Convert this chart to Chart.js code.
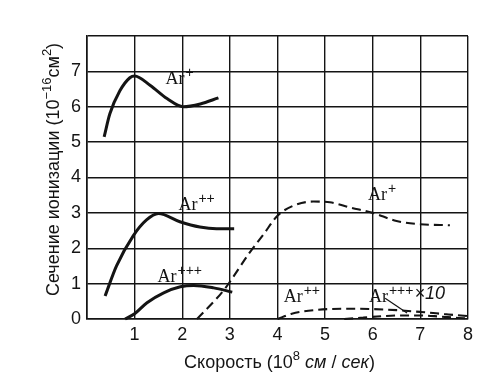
<!DOCTYPE html>
<html>
<head>
<meta charset="utf-8">
<script src="https://cdn.jsdelivr.net/npm/chart.js@4.4.1/dist/chart.umd.min.js"></script>
<style>
  html, body { margin: 0; padding: 0; background: #fff; }
  #wrap { width: 500px; height: 389px; }
</style>
</head>
<body>
<div id="wrap"><canvas id="chart"></canvas></div>
<script>
// velocity axis (10^8 cm/s) and cross-section axis (10^-16 cm^2)
const xTicks = [0, 1, 2, 3, 4, 5, 6, 7, 8];
const yTicks = [0, 1, 2, 3, 4, 5, 6, 7, 8];

// solid curves (low velocity)
const solid1X = [0.36, 0.48, 0.69, 0.9, 1.0, 1.33, 1.68, 2.02, 2.38, 2.76];
const solid1Y = [5.15, 5.8, 6.45, 6.82, 6.87, 6.6, 6.23, 6.0, 6.08, 6.25];
const solid2X = [0.38, 0.62, 0.97, 1.25, 1.5, 1.95, 2.37, 2.72, 3.09];
const solid2Y = [0.65, 1.5, 2.35, 2.8, 2.98, 2.75, 2.6, 2.55, 2.55];
const solid3X = [0.8, 1.0, 1.26, 1.61, 1.96, 2.24, 2.66, 3.05];
const solid3Y = [0, 0.15, 0.46, 0.74, 0.91, 0.95, 0.88, 0.76];

// dashed curves (high velocity)
const dashed1X = [2.31, 2.88, 3.4, 3.71, 4.0, 4.33, 4.75, 5.1, 5.53, 6.0, 6.5, 7.0, 7.62];
const dashed1Y = [0, 0.83, 1.85, 2.4, 2.92, 3.2, 3.32, 3.3, 3.15, 3.0, 2.77, 2.68, 2.65];
const dashed2X = [4.0, 4.3, 4.85, 5.5, 6.0, 6.5, 7.0, 7.5, 8.0];
const dashed2Y = [0, 0.15, 0.26, 0.29, 0.28, 0.25, 0.2, 0.14, 0.08];
const dashed3X = [5.4, 5.8, 6.2, 6.6, 7.0, 7.4, 7.8, 8.0];
const dashed3Y = [0, 0.04, 0.08, 0.1, 0.1, 0.07, 0.03, 0.02];

// curve labels
const ionNames = ['Ar', 'Ar', 'Ar', 'Ar', 'Ar', 'Ar'];
const ionCharges = ['+', '++', '+++', '+', '++', '+++'];
const ionFactors = ['', '', '', '', '', '×10'];
const labelX = [1.65, 1.92, 1.48, 5.9, 4.13, 5.92];
const labelY = [6.63, 3.08, 1.06, 3.37, 0.47, 0.47];

const INK = '#141414';
const SANS = '"Liberation Sans", Arial, sans-serif';

function pts(xs, ys) {
  return xs.map((x, i) => ({ x: x, y: ys[i] }));
}

function curve(xs, ys, dashed) {
  return {
    data: pts(xs, ys),
    borderColor: INK,
    borderWidth: dashed ? 2.1 : 3,
    borderDash: dashed ? [9, 5] : [],
    pointRadius: 0,
    cubicInterpolationMode: 'monotone',
    fill: false,
    clip: 6
  };
}

function drawRich(ctx, parts, x, y, rotate) {
  ctx.save();
  ctx.translate(x, y);
  if (rotate) ctx.rotate(-Math.PI / 2);
  const fontOf = p => (p.it ? 'italic ' : '') + (p.sup ? '13px ' : '18px ') + SANS;
  let total = 0;
  parts.forEach(p => { ctx.font = fontOf(p); total += ctx.measureText(p.t).width; });
  let cx = -total / 2;
  ctx.textAlign = 'left';
  ctx.textBaseline = 'alphabetic';
  parts.forEach(p => {
    ctx.font = fontOf(p);
    ctx.fillText(p.t, cx, p.sup ? -8 : 0);
    cx += ctx.measureText(p.t).width;
  });
  ctx.restore();
}

const labelPlugin = {
  id: 'labelPlugin',
  afterDraw(chart) {
    const { ctx, chartArea, scales: { x, y } } = chart;
    ctx.save();
    ctx.fillStyle = INK;
    ctx.strokeStyle = INK;
    ctx.textBaseline = 'alphabetic';
    ctx.textAlign = 'left';

    ionNames.forEach((name, i) => {
      let px = x.getPixelForValue(labelX[i]);
      const py = y.getPixelForValue(labelY[i]);
      ctx.font = '18px "Liberation Serif", serif';
      ctx.fillText(name, px, py);
      px += ctx.measureText(name).width + 1;
      ctx.font = '14px "Liberation Sans", sans-serif';
      ctx.fillText(ionCharges[i], px, py - 7);
      px += ctx.measureText(ionCharges[i]).width + 1;
      if (ionFactors[i]) {
        ctx.font = 'italic 18px ' + SANS;
        ctx.fillText(ionFactors[i], px, py - 3);
      }
    });

    // leader line from the Ar+++ x10 label to its curve
    ctx.lineWidth = 1.2;
    ctx.beginPath();
    ctx.moveTo(x.getPixelForValue(6.26), y.getPixelForValue(0.59));
    ctx.lineTo(x.getPixelForValue(6.72), y.getPixelForValue(0.17));
    ctx.stroke();

    // axis titles
    const midX = (chartArea.left + chartArea.right) / 2;
    const midY = (chartArea.top + chartArea.bottom) / 2;
    drawRich(ctx, [
      { t: 'Скорость (10' }, { t: '8', sup: true }, { t: ' ' },
      { t: 'см', it: true }, { t: ' / ' }, { t: 'сек', it: true }, { t: ')' }
    ], midX + 2, 368, false);
    drawRich(ctx, [
      { t: 'Сечение ионизации (10' }, { t: '−16', sup: true },
      { t: 'см' }, { t: '2', sup: true }, { t: ')' }
    ], 59, midY - 8, true);
    ctx.restore();
  }
};

new Chart(document.getElementById('chart'), {
  type: 'line',
  data: {
    datasets: [
      curve(solid1X, solid1Y, false),
      curve(solid2X, solid2Y, false),
      curve(solid3X, solid3Y, false),
      curve(dashed1X, dashed1Y, true),
      curve(dashed2X, dashed2Y, true),
      curve(dashed3X, dashed3Y, true)
    ]
  },
  options: {
    responsive: true,
    maintainAspectRatio: false,
    animation: false,
    layout: {
      padding: { top: 36, right: 32, left: 0, bottom: 0 }
    },
    plugins: {
      legend: { display: false },
      tooltip: { enabled: false }
    },
    scales: {
      x: {
        type: 'linear',
        min: xTicks[0],
        max: xTicks[xTicks.length - 1],
        afterBuildTicks: s => { s.ticks = xTicks.map(v => ({ value: v })); },
        afterFit: s => { s.height = 70; },
        grid: { color: INK, lineWidth: 1.4, drawTicks: false },
        border: { color: INK, width: 1.6 },
        ticks: {
          color: INK,
          padding: 5,
          font: { family: SANS, size: 18 },
          callback: v => (v === 0 ? '' : v)
        }
      },
      y: {
        type: 'linear',
        min: yTicks[0],
        max: yTicks[yTicks.length - 1],
        afterBuildTicks: s => { s.ticks = yTicks.map(v => ({ value: v })); },
        afterFit: s => { s.width = 87; },
        grid: { color: INK, lineWidth: 1.4, drawTicks: false },
        border: { color: INK, width: 1.6 },
        ticks: {
          color: INK,
          padding: 6,
          font: { family: SANS, size: 18 },
          callback: v => (v === 8 ? '' : v)
        }
      }
    }
  },
  plugins: [labelPlugin]
});
</script>
</body>
</html>
